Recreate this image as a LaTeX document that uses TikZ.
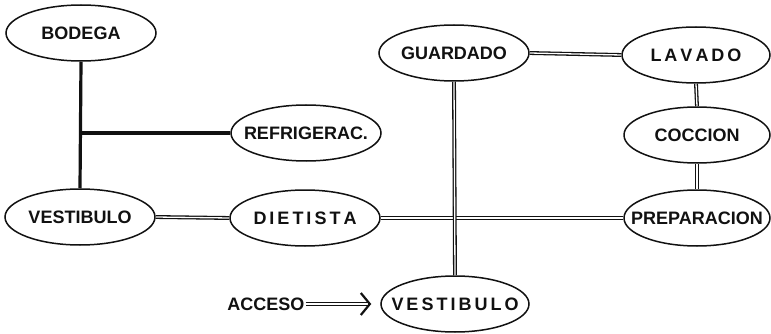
\documentclass[tikz,border=0pt]{standalone}
\usepackage{fontspec}
\setmainfont{Liberation Sans}
\usetikzlibrary{arrows.meta,shapes.geometric}
\definecolor{Paper}{HTML}{FFFFFF}
\definecolor{Ink}{HTML}{111111}

\begin{document}
\begin{tikzpicture}[x=1pt,y=-1pt,
  area/.style={ellipse, draw=Ink, line width=1.5pt, fill=Paper, minimum width=150pt, minimum height=56pt, inner xsep=-25pt, inner ysep=0pt, font=\bfseries\fontsize{18}{20}\selectfont, text=Ink},
  heavy/.style={Ink, line width=3.2pt},
  link/.style={Ink, double=Paper, double distance=1.3pt, line width=1.3pt}]
\fill[Paper] (0,0) rectangle (771,334);
\node[area] (bodega) at (81,33) {BODEGA};
\node[area] (refri) at (306,133) {REFRIGERAC.};
\node[area] (vestA) at (80,217) {VESTIBULO};
\node[area] (dieti) at (305,218) {D\,I\,E\,T\,I\,S\,T\,A};
\node[area] (guard) at (454,53) {GUARDADO};
\node[area, minimum width=148pt] (lavado) at (696,55) {L\,A\,V\,A\,D\,O};
\node[area, minimum width=146pt] (coccion) at (697,135) {COCCION};
\node[area, minimum width=146pt] (prepa) at (697,218) {PREPARACION};
\node[area, minimum width=148pt] (vestB) at (455,304) {V\,E\,S\,T\,I\,B\,U\,L\,O};
\node[font=\bfseries\fontsize{18}{20}\selectfont, text=Ink, inner sep=1pt] (acceso) at (266,304) {ACCESO};
\coordinate (codo) at (80,133);
\draw[heavy] (bodega.south) -- (vestA.north);
\draw[heavy] (codo) -- (refri.west);
\draw[link] (vestA.east) -- (dieti.west);
\draw[link] (dieti.east) -- (prepa.west);
\draw[link] (guard.east) -- (lavado.west);
\draw[link] (lavado.south) -- (coccion.north);
\draw[link] (coccion.south) -- (prepa.north);
\draw[link] (guard.south) -- (vestB.north);
\draw[link, shorten >=9pt, -{Straight Barb[length=9pt,width=22pt,line width=2.2pt]}] (acceso.east) -- (vestB.west);
\end{tikzpicture}
\end{document}
